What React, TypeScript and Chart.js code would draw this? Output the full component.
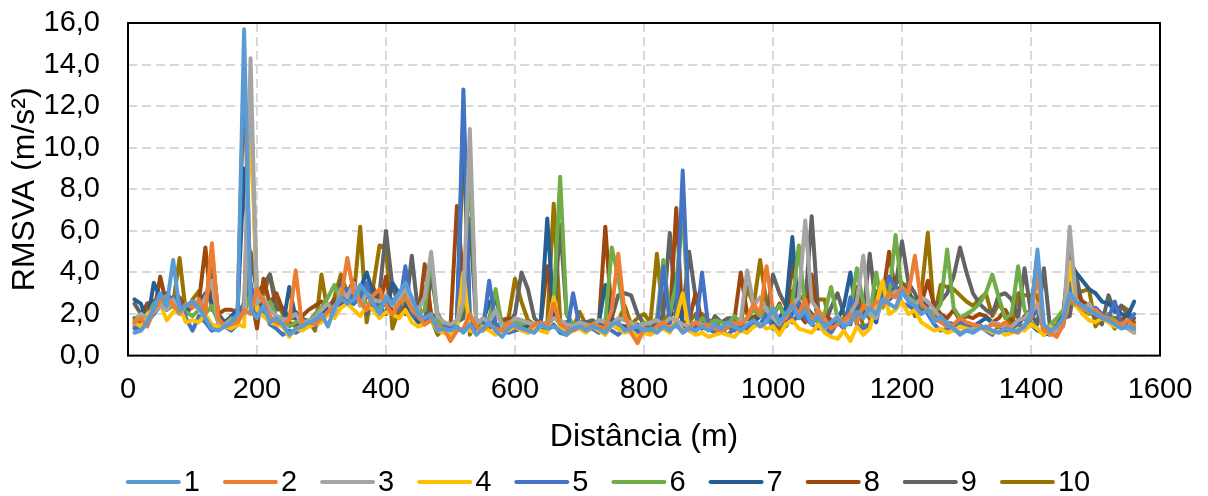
import { useEffect, useRef } from "react";
import { Chart, registerables } from "chart.js";

Chart.register(...registerables);

// Distância percorrida (m)
const distancias = [
  10, 20, 30, 40, 50, 60, 70, 80, 90, 100,
  110, 120, 130, 140, 150, 160, 170, 180, 190, 200,
  210, 220, 230, 240, 250, 260, 270, 280, 290, 300,
  310, 320, 330, 340, 350, 360, 370, 380, 390, 400,
  410, 420, 430, 440, 450, 460, 470, 480, 490, 500,
  510, 520, 530, 540, 550, 560, 570, 580, 590, 600,
  610, 620, 630, 640, 650, 660, 670, 680, 690, 700,
  710, 720, 730, 740, 750, 760, 770, 780, 790, 800,
  810, 820, 830, 840, 850, 860, 870, 880, 890, 900,
  910, 920, 930, 940, 950, 960, 970, 980, 990, 1000,
  1010, 1020, 1030, 1040, 1050, 1060, 1070, 1080, 1090, 1100,
  1110, 1120, 1130, 1140, 1150, 1160, 1170, 1180, 1190, 1200,
  1210, 1220, 1230, 1240, 1250, 1260, 1270, 1280, 1290, 1300,
  1310, 1320, 1330, 1340, 1350, 1360, 1370, 1380, 1390, 1400,
  1410, 1420, 1430, 1440, 1450, 1460, 1470, 1480, 1490, 1500,
  1510, 1520, 1530, 1540, 1550, 1560,
];

// RMSVA (m/s²) de cada passagem
const serie1 = [
  1.1, 1.2, 1.6, 2.3, 3.0, 2.4, 4.6, 2.2, 2.4, 2.6,
  2.3, 1.8, 1.3, 1.2, 1.4, 1.6, 2.0, 15.7, 2.2, 1.8,
  2.4, 1.6, 1.8, 1.5, 1.0, 1.3, 1.4, 1.6, 1.7, 2.0,
  1.4, 2.3, 2.8, 2.5, 2.7, 3.4, 3.0, 2.5, 2.0, 2.8,
  2.5, 3.0, 3.5, 2.8, 2.0, 1.8, 2.0, 1.2, 1.3, 1.2,
  1.4, 1.1, 1.5, 1.0, 1.3, 1.6, 1.2, 0.9, 1.3, 1.5,
  1.3, 1.2, 1.1, 1.5, 1.3, 1.4, 1.2, 1.0, 1.3, 1.4,
  1.2, 1.4, 1.3, 1.1, 1.5, 1.6, 1.2, 1.3, 1.4, 1.2,
  1.3, 1.1, 1.4, 1.2, 1.5, 1.1, 1.3, 1.2, 1.4, 1.2,
  1.5, 1.3, 1.6, 1.4, 1.2, 1.5, 1.7, 1.4, 1.6, 2.3,
  1.6, 2.0, 2.4, 1.8, 2.2, 1.5, 1.9, 1.4, 1.6, 1.8,
  1.4, 1.6, 2.1, 1.8, 2.3, 2.0, 2.7, 2.5, 2.3, 3.1,
  2.6, 2.4, 2.0, 2.2, 1.6, 1.9, 1.5, 1.3, 1.0, 1.2,
  1.1, 1.3, 1.4, 1.2, 1.1, 1.3, 1.2, 1.2, 1.4, 2.0,
  5.1, 1.5, 1.2, 1.4, 1.8, 3.0, 2.6, 2.4, 2.2, 2.0,
  1.8, 1.7, 1.5, 1.3, 1.4, 1.3,
];

const serie2 = [
  1.6, 1.8, 1.4, 2.2, 2.6, 2.9, 2.4, 2.1, 2.5, 2.3,
  2.7, 2.0, 5.4, 1.8, 1.4, 1.5, 1.6, 2.2, 2.0, 3.2,
  2.6, 1.9, 1.6, 1.5, 1.7, 4.1, 1.4, 1.6, 1.5, 1.8,
  2.1, 2.4, 2.7, 4.7, 3.0, 2.6, 2.2, 2.9, 3.2, 2.4,
  2.0, 2.5, 2.8, 2.2, 1.9, 1.5, 1.7, 1.4, 1.3, 0.7,
  1.2, 1.3, 2.0, 1.4, 1.2, 1.5, 1.3, 1.2, 1.6, 1.4,
  1.3, 1.2, 1.5, 1.6, 1.4, 2.5, 1.5, 1.3, 1.2, 1.4,
  1.3, 1.5, 1.4, 1.3, 2.2, 4.9, 2.0, 1.1, 0.6, 1.3,
  1.2, 1.4, 1.6, 1.3, 1.5, 1.2, 1.3, 1.6, 1.4, 1.5,
  1.3, 1.2, 1.4, 1.6, 1.5, 1.8, 2.5, 2.0, 4.3, 2.2,
  1.6, 1.8, 2.5, 2.0, 2.7, 1.5, 2.2, 1.8, 1.3, 1.5,
  1.7, 2.0, 1.6, 2.4, 2.2, 2.6, 2.4, 3.0, 2.8, 3.3,
  3.0, 4.8, 2.5, 2.2, 1.8, 1.6, 1.4, 1.5, 1.8, 1.6,
  1.5, 1.4, 1.3, 1.5, 1.4, 1.6, 1.2, 1.1, 1.5, 1.8,
  4.0, 1.2, 1.1, 0.9, 1.5, 2.8, 2.5, 2.3, 2.1, 2.2,
  1.9, 1.8, 1.6, 1.5, 1.7, 1.4,
];

const serie3 = [
  1.5, 2.0, 1.8, 2.1, 2.4, 2.2, 2.7, 2.0, 2.4, 2.6,
  2.2, 2.8, 3.6, 1.6, 1.5, 1.7, 1.9, 2.0, 14.3, 2.5,
  2.8, 2.2, 1.9, 1.7, 1.8, 2.0, 1.5, 1.7, 1.8, 2.2,
  2.5, 2.0, 3.2, 2.8, 3.5, 2.4, 3.0, 2.7, 2.6, 2.9,
  2.4, 2.7, 3.2, 2.5, 2.2, 2.8, 5.0, 1.9, 1.6, 1.5,
  1.7, 2.6, 10.9, 1.5, 1.8, 1.6, 2.2, 1.4, 1.5, 1.8,
  1.7, 1.6, 1.5, 1.4, 1.6, 1.8, 1.7, 1.5, 1.4, 1.6,
  1.5, 1.4, 1.7, 1.6, 1.5, 1.8, 1.7, 1.6, 1.4, 1.5,
  1.6, 1.7, 1.5, 1.8, 1.7, 1.5, 1.4, 1.6, 1.5, 1.4,
  1.3, 1.2, 1.5, 1.4, 1.7, 4.1, 2.4, 2.8, 2.2, 1.8,
  1.5, 2.0, 2.4, 2.8, 6.5, 2.6, 2.2, 1.3, 1.6, 1.9,
  1.4, 2.0, 2.6, 4.8, 2.0, 1.8, 2.6, 2.8, 3.1, 3.0,
  2.7, 2.4, 2.8, 2.6, 2.2, 1.8, 1.6, 1.3, 1.1, 1.2,
  1.3, 1.4, 1.2, 1.6, 1.5, 1.3, 1.4, 1.7, 1.8, 2.1,
  2.5, 1.3, 1.0, 1.2, 1.4, 6.2, 2.6, 2.2, 2.5, 2.0,
  1.9, 1.7, 1.6, 1.4, 1.3, 1.1,
];

const serie4 = [
  1.6, 1.4, 2.0, 2.2, 2.5, 1.7, 2.1, 2.3, 1.6, 1.7,
  1.6, 2.0, 1.5, 1.4, 1.4, 1.3, 1.5, 1.4, 12.2, 2.2,
  1.9, 1.6, 1.5, 1.4, 0.9, 1.3, 1.2, 1.4, 1.5, 1.6,
  2.0, 1.8, 2.3, 2.5, 2.2, 1.9, 2.4, 2.2, 1.8, 2.1,
  2.0, 1.8, 2.2, 1.6, 1.4, 1.5, 1.7, 1.2, 1.1, 1.0,
  1.3, 4.0, 1.2, 1.1, 1.4, 1.2, 1.0, 1.3, 1.2, 1.4,
  1.2, 1.1, 1.3, 1.2, 1.1, 2.8, 1.3, 1.0, 1.2, 1.3,
  1.1, 1.4, 1.2, 1.0, 1.5, 1.3, 1.1, 1.2, 0.9, 1.1,
  1.0, 1.2, 1.3, 1.1, 1.8, 3.0, 1.2, 1.0, 1.1, 0.9,
  1.0, 1.1, 1.0, 0.9, 1.2, 1.1, 1.4, 1.5, 1.3, 1.4,
  1.0, 1.5, 1.7, 1.3, 1.2, 1.1, 1.5, 1.1, 0.9, 0.8,
  1.2, 0.7, 1.4, 1.0, 1.3, 2.5, 3.6, 2.0, 2.2, 2.6,
  2.0, 2.2, 1.6, 1.4, 1.2, 1.3, 1.1, 1.2, 1.4, 1.3,
  1.2, 1.4, 1.3, 1.1, 1.2, 1.0, 1.1, 1.3, 1.2, 1.5,
  1.3, 1.0, 1.4, 1.2, 1.6, 4.5, 2.4, 2.0, 1.7, 1.6,
  1.8, 1.6, 1.4, 1.5, 1.3, 1.1,
];

const serie5 = [
  1.3, 1.4, 1.6, 2.0, 2.4, 2.2, 2.8, 2.6, 1.8, 1.2,
  1.9, 1.6, 1.2, 1.3, 1.4, 1.2, 1.5, 2.6, 3.5, 2.0,
  2.2, 1.5, 1.3, 1.0, 1.2, 1.1, 1.3, 1.5, 1.4, 1.7,
  2.0, 2.3, 2.6, 3.2, 2.5, 2.8, 3.5, 2.2, 2.6, 2.4,
  2.7, 2.2, 4.3, 2.0, 1.8, 1.6, 1.9, 1.2, 1.4, 1.3,
  1.4, 12.8, 1.6, 1.4, 1.2, 3.6, 1.5, 1.3, 1.1, 1.2,
  1.3, 1.1, 1.4, 1.3, 1.2, 1.5, 1.1, 1.0, 3.0, 1.4,
  1.2, 1.3, 1.1, 1.4, 1.2, 1.0, 1.3, 1.2, 1.1, 1.4,
  1.2, 1.3, 4.3, 1.6, 1.4, 8.9, 1.6, 1.2, 4.0, 1.3,
  1.1, 1.2, 1.0, 1.3, 1.4, 1.2, 1.6, 1.5, 2.0, 1.3,
  1.6, 1.4, 2.0, 2.6, 1.8, 1.5, 1.3, 1.4, 1.1, 1.6,
  1.3, 2.8, 1.5, 1.3, 1.5, 2.0, 2.8, 3.8, 3.3, 2.5,
  2.4, 2.2, 2.6, 2.0, 1.5, 1.2, 1.3, 1.4, 1.6, 1.5,
  1.3, 1.5, 1.2, 1.0, 1.4, 1.2, 1.3, 1.5, 1.4, 1.8,
  2.2, 1.4, 1.1, 1.2, 1.5, 3.5, 2.6, 2.2, 2.1, 2.3,
  2.0, 1.8, 2.6, 1.5, 1.6, 2.0,
];

const serie6 = [
  1.7, 2.0, 1.8, 2.5, 2.7, 2.2, 2.4, 2.0, 2.1, 1.9,
  2.2, 2.0, 2.4, 1.6, 1.5, 1.8, 1.7, 2.0, 3.0, 2.4,
  2.0, 2.6, 1.9, 1.8, 1.4, 1.6, 1.7, 1.5, 2.0, 2.3,
  2.8, 3.4, 2.6, 3.0, 2.5, 3.2, 2.4, 2.6, 2.3, 2.7,
  2.5, 2.3, 2.8, 2.4, 2.0, 2.2, 4.7, 1.6, 1.5, 1.3,
  1.5, 2.4, 9.3, 1.6, 1.5, 1.8, 3.2, 1.4, 1.6, 1.7,
  1.5, 1.6, 1.4, 1.5, 1.6, 2.5, 8.6, 2.0, 1.5, 1.6,
  1.4, 1.5, 1.7, 1.6, 5.2, 3.8, 1.8, 1.5, 1.4, 1.6,
  1.5, 1.8, 4.6, 2.0, 3.5, 6.9, 1.7, 1.3, 1.8, 1.5,
  1.7, 1.6, 1.5, 1.9, 1.6, 1.8, 2.2, 1.9, 2.3, 2.0,
  2.4, 1.8, 2.5, 5.3, 2.2, 1.9, 1.6, 2.0, 3.3, 1.8,
  1.6, 2.2, 4.2, 2.5, 1.9, 4.0, 2.3, 2.9, 5.8, 3.0,
  2.8, 2.6, 2.4, 2.2, 2.0, 2.5, 5.1, 2.3, 1.8, 2.0,
  2.2, 2.5, 3.0, 3.9, 2.8, 1.8, 2.0, 4.3, 2.2, 1.6,
  1.3, 1.0, 1.5, 1.8, 2.2, 2.6, 2.4, 2.2, 2.0, 2.1,
  1.9, 2.0, 1.7, 1.5, 1.4, 1.2,
];

const serie7 = [
  2.7, 2.5, 1.6, 3.5, 2.8, 3.0, 2.6, 2.4, 2.2, 2.6,
  2.2, 3.0, 2.6, 1.8, 1.6, 1.9, 2.2, 9.0, 3.2, 2.6,
  2.0, 1.8, 1.6, 1.4, 3.3, 1.8, 1.5, 1.6, 1.8, 2.0,
  2.2, 2.5, 2.4, 3.0, 2.8, 3.2, 4.0, 3.0, 2.3, 2.0,
  3.5, 3.0, 2.5, 2.0, 1.6, 1.8, 1.7, 1.4, 1.3, 1.5,
  1.4, 11.8, 1.5, 1.3, 1.6, 2.6, 1.5, 1.4, 1.6, 1.3,
  1.5, 1.4, 1.3, 1.6, 6.6, 2.0, 1.5, 1.6, 1.4, 1.3,
  1.5, 1.4, 1.6, 3.4, 1.5, 1.3, 1.4, 1.3, 1.2, 1.4,
  1.3, 1.5, 1.4, 1.6, 3.9, 1.5, 1.2, 1.4, 1.3, 1.5,
  1.4, 1.3, 1.6, 1.7, 1.5, 1.8, 1.6, 1.9, 2.2, 1.6,
  1.8, 2.3, 5.7, 1.8, 2.4, 2.0, 1.6, 1.8, 1.5, 1.7,
  2.4, 4.0, 1.8, 2.2, 2.0, 1.6, 3.2, 2.7, 3.0, 3.4,
  3.0, 2.6, 2.8, 2.2, 2.0, 1.8, 1.6, 1.5, 1.4, 1.5,
  1.4, 1.6, 1.8, 1.6, 1.5, 1.3, 1.4, 1.6, 1.8, 1.5,
  1.2, 1.1, 1.0, 1.3, 2.0, 4.5, 4.0, 3.6, 3.2, 3.0,
  2.6, 2.5, 2.2, 2.0, 1.9, 2.6,
];

const serie8 = [
  1.8, 1.6, 2.5, 2.0, 3.8, 2.4, 2.6, 2.8, 2.2, 2.5,
  2.6, 5.2, 2.2, 2.0, 2.2, 2.2, 2.1, 13.8, 3.0, 1.3,
  3.7, 2.5, 3.0, 2.2, 1.6, 1.4, 1.9, 2.2, 2.4, 2.6,
  2.3, 2.7, 2.5, 3.0, 3.6, 2.6, 2.8, 3.3, 2.4, 3.8,
  2.0, 1.8, 2.4, 2.5, 1.7, 4.4, 2.0, 1.8, 1.6, 1.4,
  7.2, 3.5, 1.4, 1.6, 1.5, 1.3, 2.1, 1.7, 1.8, 1.5,
  1.6, 1.4, 1.5, 1.6, 4.3, 2.0, 1.5, 1.6, 1.4, 1.5,
  1.4, 1.3, 1.5, 6.2, 1.8, 1.5, 1.4, 1.3, 1.5, 1.2,
  1.3, 1.5, 1.4, 1.6, 7.1, 1.5, 1.7, 3.0, 1.6, 1.4,
  1.6, 1.3, 1.5, 1.7, 4.0, 2.0, 1.8, 2.2, 2.0, 1.9,
  2.5, 1.7, 4.6, 2.0, 1.6, 3.9, 1.5, 2.0, 1.7, 1.6,
  1.4, 1.9, 3.3, 2.2, 1.8, 2.4, 2.8, 5.0, 3.0, 3.2,
  2.8, 2.2, 2.5, 3.6, 2.4, 2.0, 1.8, 2.2, 1.7, 1.9,
  1.8, 2.0, 1.9, 1.6, 1.8, 2.2, 1.7, 1.5, 1.9, 2.2,
  4.8, 1.2, 1.1, 1.0, 1.5, 5.1, 3.0, 2.6, 2.4, 2.2,
  2.0, 1.9, 1.8, 1.7, 2.0, 1.4,
];

const serie9 = [
  2.5, 2.0, 2.5, 2.6, 2.9, 2.8, 2.6, 2.5, 2.0, 2.4,
  2.6, 2.2, 5.0, 2.0, 1.6, 1.8, 2.0, 2.5, 5.0, 3.0,
  3.4, 3.9, 2.2, 2.3, 1.8, 2.1, 1.8, 1.6, 2.0, 2.2,
  2.2, 2.0, 3.6, 2.6, 2.5, 2.8, 2.0, 2.6, 3.0, 6.0,
  3.3, 2.5, 2.0, 4.8, 2.0, 1.5, 3.9, 2.0, 1.5, 1.5,
  1.6, 1.8, 6.6, 1.6, 1.7, 1.5, 2.9, 1.4, 1.5, 2.0,
  4.0, 3.2, 1.8, 1.5, 1.5, 1.8, 6.3, 2.0, 1.4, 1.6,
  1.6, 1.7, 1.5, 1.5, 1.8, 2.9, 3.0, 2.9, 2.0, 1.5,
  1.5, 1.4, 2.0, 5.9, 1.8, 2.0, 5.0, 2.8, 1.5, 1.3,
  1.9, 1.6, 1.8, 1.8, 1.5, 1.4, 1.6, 2.2, 2.0, 3.9,
  3.0, 2.4, 1.6, 2.0, 2.5, 6.7, 2.2, 1.5, 2.3, 3.0,
  2.0, 1.5, 2.5, 2.0, 4.9, 2.3, 2.5, 3.0, 3.3, 5.5,
  3.5, 3.0, 2.2, 2.4, 2.5, 2.6, 3.0, 3.8, 5.2, 4.0,
  3.0, 2.5, 2.2, 2.0, 2.9, 3.0, 2.7, 1.8, 4.2, 2.0,
  1.5, 4.2, 1.2, 1.1, 1.8, 1.9, 3.9, 2.3, 2.1, 1.9,
  1.5, 2.9, 2.1, 2.4, 2.0, 1.8,
];

const serie10 = [
  1.4, 1.6, 1.9, 2.3, 2.6, 2.9, 2.5, 4.7, 2.0, 2.7,
  3.1, 2.4, 3.9, 1.5, 1.6, 1.5, 2.0, 2.3, 12.0, 3.0,
  2.9, 3.9, 2.6, 2.0, 1.8, 1.8, 1.7, 1.7, 1.2, 3.9,
  2.0, 2.8, 3.9, 3.0, 2.8, 6.2, 1.6, 3.3, 5.3, 5.2,
  1.3, 2.2, 3.0, 2.4, 2.5, 3.3, 1.8, 1.0, 1.3, 1.5,
  1.4, 10.7, 1.0, 1.7, 1.6, 1.7, 1.4, 1.2, 1.8, 3.7,
  2.6, 1.7, 1.5, 1.3, 1.5, 7.3, 1.7, 1.4, 1.3, 2.1,
  1.5, 1.6, 1.6, 1.5, 1.7, 1.6, 2.4, 1.5, 1.8, 2.0,
  1.6, 4.9, 1.7, 2.0, 2.0, 2.9, 1.6, 2.0, 2.0, 1.7,
  1.6, 1.1, 1.4, 1.2, 1.5, 3.3, 2.4, 4.6, 2.5, 1.9,
  1.2, 2.0, 3.1, 2.9, 2.6, 2.8, 2.7, 2.7, 1.2, 1.6,
  1.8, 2.2, 2.6, 1.4, 1.5, 3.1, 3.0, 3.3, 3.6, 3.5,
  3.3, 1.9, 3.0, 5.9, 1.9, 3.4, 3.3, 3.2, 2.9, 2.6,
  2.4, 2.7, 3.0, 1.9, 2.5, 2.0, 1.3, 3.0, 2.9, 2.9,
  2.9, 1.0, 1.3, 1.5, 2.0, 5.1, 3.0, 3.1, 3.2, 1.4,
  1.9, 1.8, 1.3, 2.4, 2.2, 1.6,
];

const nomesSeries = ["1", "2", "3", "4", "5", "6", "7", "8", "9", "10"];
const coresSeries = [
  "#5B9BD5", "#ED7D31", "#A5A5A5", "#FFC000", "#4472C4",
  "#70AD47", "#255E91", "#9E480E", "#636363", "#997300",
];
const valoresSeries = [serie1, serie2, serie3, serie4, serie5, serie6, serie7, serie8, serie9, serie10];

const FONTE = '"Liberation Sans", Arial, sans-serif';
const TAM = 29;
const TAM_TITULO = 32;

// Moldura preta em volta da área de plotagem
const moldura = {
  id: "moldura",
  afterDatasetsDraw(chart: any) {
    const { ctx, chartArea: a } = chart;
    ctx.save();
    ctx.strokeStyle = "#000";
    ctx.lineWidth = 2;
    ctx.strokeRect(a.left, a.top, a.right - a.left, a.bottom - a.top);
    ctx.restore();
  },
};

// Legenda inferior: traço colorido seguido do nome da série
const legendaInferior = {
  id: "legendaInferior",
  afterDraw(chart: any) {
    const ctx = chart.ctx;
    ctx.save();
    ctx.font = `${TAM}px ${FONTE}`;
    const traco = 55;
    const folga = 3;
    const entre = 23;
    const itens = chart.data.datasets.map((ds: any) => ({
      texto: ds.label as string,
      cor: ds.borderColor as string,
      w: ctx.measureText(ds.label).width,
    }));
    const total =
      itens.reduce((s: number, it: any) => s + traco + folga + it.w, 0) + entre * (itens.length - 1);
    let x = chart.width / 2 + 4 - total / 2;
    const yLinha = 482;
    const yTexto = 491;
    for (const it of itens) {
      ctx.strokeStyle = it.cor;
      ctx.lineWidth = 4;
      ctx.lineCap = "round";
      ctx.beginPath();
      ctx.moveTo(x + 2, yLinha);
      ctx.lineTo(x + traco - 2, yLinha);
      ctx.stroke();
      ctx.fillStyle = "#000";
      ctx.textBaseline = "alphabetic";
      ctx.textAlign = "left";
      ctx.fillText(it.texto, x + traco + folga, yTexto);
      x += traco + folga + it.w + entre;
    }
    ctx.restore();
  },
};

export default function App() {
  const ref = useRef<HTMLCanvasElement | null>(null);

  useEffect(() => {
    if (!ref.current) return;
    Chart.defaults.font.family = FONTE;
    const gradeCor = "#D9D9D9";
    const chart = new Chart(ref.current, {
      type: "line",
      data: {
        datasets: valoresSeries.map((vals, i) => ({
          label: nomesSeries[i],
          data: distancias.map((d, j) => ({ x: d, y: vals[j] })),
          borderColor: coresSeries[i],
          backgroundColor: coresSeries[i],
          borderWidth: 4,
          pointRadius: 0,
          tension: 0,
          fill: false,
          borderJoinStyle: "round" as const,
          borderCapStyle: "round" as const,
        })),
      },
      options: {
        animation: false,
        responsive: false,
        devicePixelRatio: 1,
        events: [],
        layout: { padding: { left: 0, right: 48, top: 23, bottom: 40 } },
        plugins: {
          legend: { display: false },
          tooltip: { enabled: false },
        },
        scales: {
          x: {
            type: "linear",
            min: 0,
            max: 1600,
            ticks: {
              stepSize: 200,
              color: "#000",
              font: { size: TAM, family: FONTE },
              padding: 17,
              maxRotation: 0,
              callback: (v: any) => String(v),
            },
            grid: { color: gradeCor, lineWidth: 2, drawTicks: false },
            border: { display: false, dash: [9, 5] },
            title: {
              display: true,
              text: "Distância (m)",
              color: "#000",
              font: { size: TAM_TITULO, family: FONTE },
              padding: 0,
            },
            afterFit: (s: any) => {
              s.height = 100.4;
              s.paddingLeft = 0;
              s.paddingRight = 0;
            },
          },
          y: {
            min: 0,
            max: 16,
            ticks: {
              stepSize: 2,
              color: "#000",
              font: { size: TAM, family: FONTE },
              padding: 28,
              callback: (v: any) => Number(v).toFixed(1).replace(".", ","),
            },
            grid: { color: gradeCor, lineWidth: 2, drawTicks: false },
            border: { display: false, dash: [9, 5] },
            title: {
              display: true,
              text: "RMSVA (m/s²)",
              color: "#000",
              font: { size: TAM_TITULO, family: FONTE },
              padding: { top: 6, bottom: 0 },
            },
            afterFit: (s: any) => {
              s.width = 128;
              s.paddingTop = 0;
              s.paddingBottom = 0;
            },
          },
        },
      },
      plugins: [moldura, legendaInferior],
    });
    return () => chart.destroy();
  }, []);

  return (
    <div style={{ position: "absolute", left: 0, top: 0, width: 1208, height: 496, background: "#fff" }}>
      <canvas ref={ref} width={1208} height={496} />
    </div>
  );
}
